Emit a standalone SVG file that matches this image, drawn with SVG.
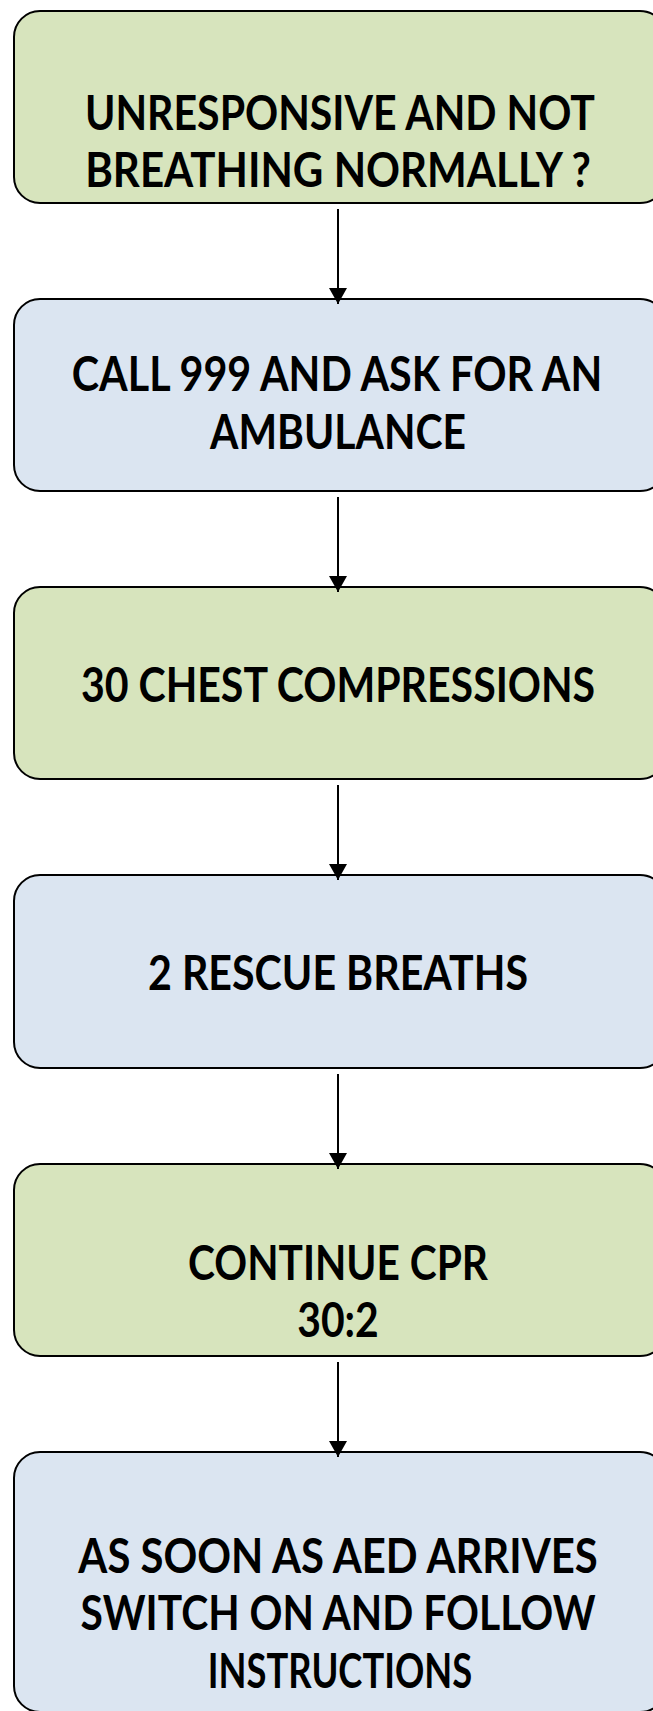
<svg xmlns="http://www.w3.org/2000/svg" width="653" height="1711" viewBox="0 0 653 1711">
<style>
.box{stroke:#000;stroke-width:2}
.g{fill:#D7E4BD}
.b{fill:#DBE5F1}
.t{font-family:Lato,"Liberation Sans",sans-serif;font-weight:bold;font-size:48px;fill:#000;text-anchor:middle}
.c{stroke:#000;stroke-width:2;fill:none}
</style>
<defs>
<marker id="ah" markerWidth="8" markerHeight="9" refX="8" refY="4.5" orient="auto" markerUnits="strokeWidth">
<path d="M0,0 L8,4.5 L0,9 Z" fill="#000"/>
</marker>
</defs>
<rect width="653" height="1711" fill="#fff"/>
<g id="n1">
<rect class="box g" x="14" y="11" width="652" height="192" rx="26"/>
<text class="t" transform="translate(340,130) scale(0.85,1)" textLength="600" lengthAdjust="spacingAndGlyphs">UNRESPONSIVE AND NOT</text>
<text class="t" transform="translate(338,187) scale(0.85,1)" textLength="595" lengthAdjust="spacingAndGlyphs">BREATHING NORMALLY ?</text>
</g>
<g id="n2">
<rect class="box b" x="14" y="299" width="652" height="192" rx="26"/>
<text class="t" transform="translate(337,391) scale(0.85,1)" textLength="624" lengthAdjust="spacingAndGlyphs">CALL 999 AND ASK FOR AN</text>
<text class="t" transform="translate(338,449) scale(0.85,1)" textLength="301" lengthAdjust="spacingAndGlyphs">AMBULANCE</text>
</g>
<g id="n3">
<rect class="box g" x="14" y="587" width="652" height="192" rx="26"/>
<text class="t" transform="translate(338,702) scale(0.85,1)" textLength="605" lengthAdjust="spacingAndGlyphs">30 CHEST COMPRESSIONS</text>
</g>
<g id="n4">
<rect class="box b" x="14" y="875" width="652" height="193" rx="26"/>
<text class="t" transform="translate(338,990) scale(0.85,1)" textLength="447" lengthAdjust="spacingAndGlyphs">2 RESCUE BREATHS</text>
</g>
<g id="n5">
<rect class="box g" x="14" y="1164" width="652" height="192" rx="26"/>
<text class="t" transform="translate(338,1280) scale(0.85,1)" textLength="353" lengthAdjust="spacingAndGlyphs">CONTINUE CPR</text>
<text class="t" transform="translate(338,1337) scale(0.85,1)" textLength="96" lengthAdjust="spacingAndGlyphs">30:2</text>
</g>
<g id="n6">
<rect class="box b" x="14" y="1452" width="652" height="260" rx="26"/>
<text class="t" transform="translate(338,1573) scale(0.85,1)" textLength="611" lengthAdjust="spacingAndGlyphs">AS SOON AS AED ARRIVES</text>
<text class="t" transform="translate(338,1630) scale(0.85,1)" textLength="606" lengthAdjust="spacingAndGlyphs">SWITCH ON AND FOLLOW</text>
<text class="t" transform="translate(340,1688) scale(0.85,1)" textLength="311" lengthAdjust="spacingAndGlyphs">INSTRUCTIONS</text>
</g>
<g id="connectors">
<line class="c" x1="338" y1="209" x2="338" y2="304" marker-end="url(#ah)"/>
<line class="c" x1="338" y1="497" x2="338" y2="592" marker-end="url(#ah)"/>
<line class="c" x1="338" y1="785" x2="338" y2="880" marker-end="url(#ah)"/>
<line class="c" x1="338" y1="1074" x2="338" y2="1169" marker-end="url(#ah)"/>
<line class="c" x1="338" y1="1362" x2="338" y2="1457" marker-end="url(#ah)"/>
</g>
</svg>
